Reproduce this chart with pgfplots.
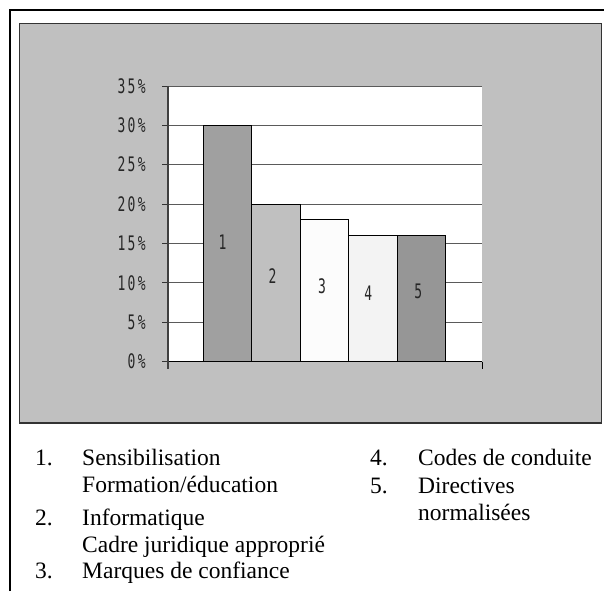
\documentclass[border=0pt]{standalone}
\usepackage{fontspec}
\setmainfont{Liberation Serif}
\newfontfamily\tickfont[FakeStretch=0.65,LetterSpace=12]{DejaVu Sans Mono}
\usepackage{pgfplots}
\pgfplotsset{compat=1.18}
\definecolor{panelgray}{RGB}{192,192,192}
\definecolor{barA}{RGB}{160,160,160}
\definecolor{barB}{RGB}{192,192,192}
\definecolor{barC}{RGB}{252,252,252}
\definecolor{barD}{RGB}{243,243,243}
\definecolor{barE}{RGB}{150,150,150}
\definecolor{gridgray}{RGB}{90,90,90}

\begin{document}
\begin{tikzpicture}[x=1pt,y=1pt]
\useasboundingbox (0,0) rectangle (604,-591);
% outer frame (open at the bottom and right)
\draw[line width=2pt] (10,-591) -- (10,-10) -- (604,-10);
% grey chart panel
\draw[line width=1.3pt,draw=black!80,fill=panelgray] (19.5,-23.5) rectangle (601.5,-423);

\begin{axis}[
  at={(168pt,-361.5pt)},anchor=south west,
  scale only axis,width=314pt,height=275.5pt,
  xmin=-1.223,xmax=5.244,ymin=0,ymax=35,
  axis background/.style={fill=white},
  axis x line*=bottom,axis y line*=left,
  x axis line style={line width=1pt,black},
  y axis line style={line width=1.2pt,black!75},
  xtick=\empty,
  ytick={0,5,...,35},
  yticklabels={0\%,5\%,10\%,15\%,20\%,25\%,30\%,35\%},
  ytick align=outside,
  major tick length=6pt,
  tick style={line width=1pt,black!80},
  yticklabel style={font=\tickfont\fontsize{20}{20}\selectfont,text=black!85,inner sep=0pt,xshift=-16pt},
  ymajorgrids,
  major grid style={line width=1pt,gridgray},
  clip=false]
\addplot[ybar,bar width=1,bar shift=0pt,fill=barA,draw=black,line width=1pt] coordinates {(0,30)};
\addplot[ybar,bar width=1,bar shift=0pt,fill=barB,draw=black,line width=1pt] coordinates {(1,20)};
\addplot[ybar,bar width=1,bar shift=0pt,fill=barC,draw=black,line width=1pt] coordinates {(2,18)};
\addplot[ybar,bar width=1,bar shift=0pt,fill=barD,draw=black,line width=1pt] coordinates {(3,16)};
\addplot[ybar,bar width=1,bar shift=0pt,fill=barE,draw=black,line width=1pt] coordinates {(4,16)};
\draw[line width=1pt] (rel axis cs:1,0) -- ([yshift=-7pt]rel axis cs:1,0);
\draw[line width=1.2pt,black!75] (rel axis cs:0,0) -- ([yshift=-7pt]rel axis cs:0,0);
\begin{scope}[every node/.style={font=\tickfont\fontsize{20}{20}\selectfont,text=black!85}]
\node at (axis cs:-0.1,15.2) {1};
\node at (axis cs:0.93,10.8) {2};
\node at (axis cs:1.95,9.6) {3};
\node at (axis cs:2.9,8.65) {4};
\node at (axis cs:3.93,8.9) {5};
\end{scope}
\end{axis}

% key below the panel
\begin{scope}[every node/.style={font=\fontsize{23.5}{27}\selectfont,inner sep=0pt,anchor=base west}]
\node at (35,-465) {1.};
\node at (82,-465) {Sensibilisation};
\node at (82,-492) {Formation/éducation};
\node at (35,-525) {2.};
\node at (82,-525) {Informatique};
\node at (82,-552) {Cadre juridique approprié};
\node at (35,-578) {3.};
\node at (82,-578) {Marques de confiance};
\node at (370,-465) {4.};
\node at (418,-465) {Codes de conduite};
\node at (370,-493) {5.};
\node at (418,-493) {Directives};
\node at (418,-520) {normalisées};
\end{scope}
\end{tikzpicture}
\end{document}
